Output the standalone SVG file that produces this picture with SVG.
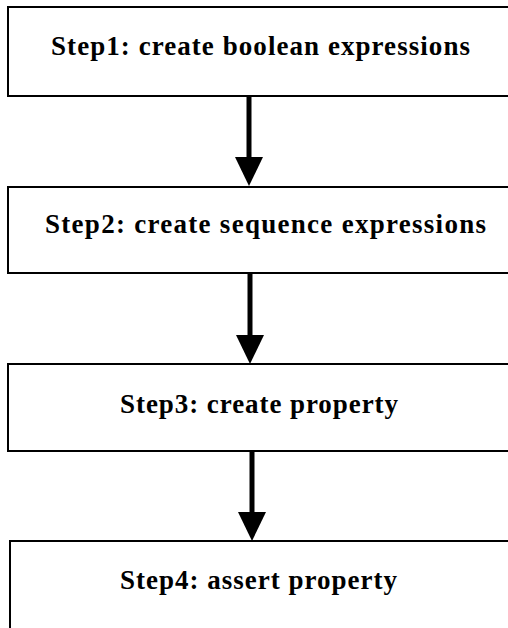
<svg xmlns="http://www.w3.org/2000/svg" width="508" height="628" viewBox="0 0 508 628">
  <style>
    .box { fill: #ffffff; stroke: #000000; stroke-width: 2; }
    .label { font-family: "Liberation Serif", "Times New Roman", serif; font-weight: bold; font-size: 27px; fill: #000000; }
    .conn { stroke: #000000; stroke-width: 5; fill: none; }
  </style>
  <defs>
    <marker id="head" viewBox="0 0 29 28" refX="0" refY="14" markerWidth="29" markerHeight="28" markerUnits="userSpaceOnUse" orient="auto">
      <path d="M0,0 L29,14 L0,28 Z" fill="#000000"/>
    </marker>
  </defs>
  <rect width="508" height="628" fill="#ffffff"/>
  <g id="step1">
    <rect class="box" x="8" y="7" width="510" height="89"/>
    <text class="label" x="51" y="55" textLength="419" lengthAdjust="spacing">Step1: create boolean expressions</text>
  </g>
  <g id="step2">
    <rect class="box" x="8" y="187" width="510" height="86"/>
    <text class="label" x="45" y="233" textLength="441" lengthAdjust="spacing">Step2: create sequence expressions</text>
  </g>
  <g id="step3">
    <rect class="box" x="8" y="364" width="510" height="87"/>
    <text class="label" x="120" y="413" textLength="278" lengthAdjust="spacing">Step3: create property</text>
  </g>
  <g id="step4">
    <rect class="box" x="10" y="541" width="510" height="100"/>
    <text class="label" x="120" y="589" textLength="277" lengthAdjust="spacing">Step4: assert property</text>
  </g>
  <g id="connectors">
    <line class="conn" x1="249" y1="96" x2="249" y2="157" marker-end="url(#head)"/>
    <line class="conn" x1="250" y1="273" x2="250" y2="335" marker-end="url(#head)"/>
    <line class="conn" x1="252" y1="451" x2="252" y2="512" marker-end="url(#head)"/>
  </g>
</svg>
